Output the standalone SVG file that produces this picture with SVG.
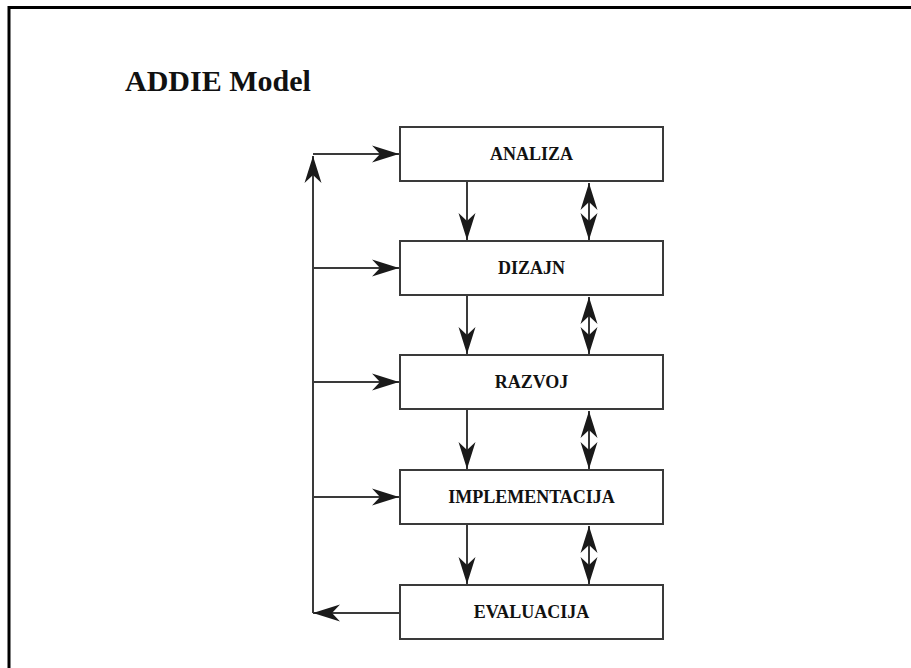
<svg xmlns="http://www.w3.org/2000/svg" width="911" height="668" viewBox="0 0 911 668">
<style>
.frame{fill:none;stroke:#000;stroke-width:3}
.box{fill:#fff;stroke:#3a3a3a;stroke-width:2}
.lbl{font-family:"Liberation Serif","Times New Roman",serif;font-weight:bold;font-size:18px;fill:#111;text-anchor:middle}
.title{font-family:"Liberation Serif","Times New Roman",serif;font-weight:bold;font-size:30px;fill:#111}
.ln{fill:none;stroke:#3a3a3a;stroke-width:2}
</style>
<defs>
<marker id="ah" markerUnits="userSpaceOnUse" viewBox="-28 -9 30 18" refX="0" refY="0" markerWidth="30" markerHeight="18" orient="auto-start-reverse">
<path d="M0,0 L-27,-8.5 L-19,0 L-27,8.5 Z" fill="#1a1a1a"/>
</marker>
</defs>
<rect width="911" height="668" fill="#fff"/>
<path class="frame" d="M9,668 L9,7.5 L911,7.5"/>
<text class="title" x="125" y="91">ADDIE Model</text>
<g id="connectors">
<path class="ln" d="M313,613 L313,156" marker-end="url(#ah)"/>
<path class="ln" d="M313,154 L399,154" marker-end="url(#ah)"/>
<path class="ln" d="M313,268 L399,268" marker-end="url(#ah)"/>
<path class="ln" d="M313,382 L399,382" marker-end="url(#ah)"/>
<path class="ln" d="M313,497 L399,497" marker-end="url(#ah)"/>
<path class="ln" d="M400,613 L313,613" marker-end="url(#ah)"/>
<path class="ln" d="M467,181 L467,240" marker-end="url(#ah)"/>
<path class="ln" d="M467,295 L467,354" marker-end="url(#ah)"/>
<path class="ln" d="M467,409 L467,469" marker-end="url(#ah)"/>
<path class="ln" d="M467,524 L467,584" marker-end="url(#ah)"/>
<path class="ln" d="M589,183 L589,240" marker-start="url(#ah)" marker-end="url(#ah)"/>
<path class="ln" d="M589,297 L589,354" marker-start="url(#ah)" marker-end="url(#ah)"/>
<path class="ln" d="M589,411 L589,469" marker-start="url(#ah)" marker-end="url(#ah)"/>
<path class="ln" d="M589,526 L589,584" marker-start="url(#ah)" marker-end="url(#ah)"/>
</g>
<g id="analiza"><rect class="box" x="400" y="127" width="263" height="54"/><text class="lbl" x="531.5" y="160">ANALIZA</text></g>
<g id="dizajn"><rect class="box" x="400" y="241" width="263" height="54"/><text class="lbl" x="531.5" y="274">DIZAJN</text></g>
<g id="razvoj"><rect class="box" x="400" y="355" width="263" height="54"/><text class="lbl" x="531.5" y="388">RAZVOJ</text></g>
<g id="implementacija"><rect class="box" x="400" y="470" width="263" height="54"/><text class="lbl" x="531.5" y="503">IMPLEMENTACIJA</text></g>
<g id="evaluacija"><rect class="box" x="400" y="585" width="263" height="54"/><text class="lbl" x="531.5" y="618">EVALUACIJA</text></g>
</svg>
